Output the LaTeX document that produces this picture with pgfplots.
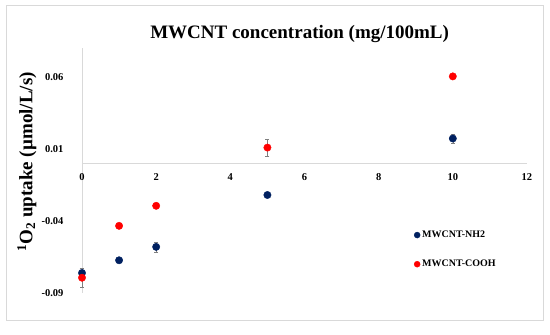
\documentclass[border=0pt]{standalone}
\usepackage{fontspec}
\setmainfont{Liberation Serif}
\usepackage{pgfplots}
\pgfplotsset{compat=1.18}
\definecolor{navy}{HTML}{002060}
\definecolor{axgray}{HTML}{D9D9D9}
\definecolor{bordergray}{HTML}{D9D9D9}
\definecolor{errgray}{HTML}{7F7F7F}
\begin{document}
\begin{tikzpicture}[x=1pt,y=1pt]
\useasboundingbox (0,0) rectangle (550,335);
\draw[bordergray, line width=1pt] (6,14) rectangle (543,329);
\begin{axis}[
  at={(82pt,42pt)}, anchor=south west,
  scale only axis, width=445pt, height=245pt,
  xmin=0, xmax=12, ymin=-0.09, ymax=0.08,
  enlargelimits=false, clip=false,
  scaled y ticks=false, scaled x ticks=false,
  axis x line=middle, axis y line=left,
  axis line style={axgray, line width=0.8pt, -},
  xtick={0,2,4,6,8,10,12}, xticklabels={0,2,4,6,8,10,12},
  ytick={-0.09,-0.04,0.01,0.06}, yticklabels={-0.09,-0.04,0.01,0.06},
  major tick length=0pt,
  hide obscured x ticks=false, hide obscured y ticks=false,
  tick label style={font=\fontsize{10.5}{12}\selectfont\bfseries},
  xticklabel style={yshift=-7pt},
  yticklabel style={xshift=-15pt},
  title={MWCNT concentration (mg/100mL)},
  title style={at={(axis description cs:0.489,1.033)}, anchor=center, font=\fontsize{19}{22}\selectfont\bfseries},
  ylabel={\textsuperscript{1}O\textsubscript{2} uptake (µmol/L/s)},
  ylabel style={at={(axis description cs:-0.124,0.535)}, anchor=center, font=\fontsize{19}{22}\selectfont\bfseries},
  legend style={draw=none, fill=none, at={(0.746,0.262)}, anchor=north west,
    font=\fontsize{10}{12}\selectfont\bfseries, row sep=17pt, inner sep=0pt},
  legend cell align=left,
  legend image code/.code={\draw[#1, mark size=3pt] plot coordinates {(0pt,0pt)};},
]
\addplot[only marks, mark=*, mark size=3.7pt, color=navy, mark options={fill=navy, draw=navy},
  error bars/.cd, y dir=both, y explicit,
  error bar style={errgray, line width=0.6pt},
  error mark options={rotate=90, errgray, mark size=2pt}]
  table[x=x, y=y, y error=e] {
x y e
0 -0.0761 0.0030
1 -0.0673 0.0015
2 -0.0580 0.0035
5 -0.0220 0.0010
10 0.0172 0.0030
};
\addlegendentry{MWCNT-NH2}
\addplot[only marks, mark=*, mark size=3.7pt, color=red, mark options={fill=red, draw=red},
  error bars/.cd, y dir=both, y explicit,
  error bar style={errgray, line width=0.6pt},
  error mark options={rotate=90, errgray, mark size=2pt}]
  table[x=x, y=y, y error=e] {
x y e
0 -0.0794 0.0065
1 -0.0434 0.0010
2 -0.0295 0.0010
5 0.0109 0.0060
10 0.0603 0.0010
};
\addlegendentry{MWCNT-COOH}
\end{axis}
\end{tikzpicture}
\end{document}
